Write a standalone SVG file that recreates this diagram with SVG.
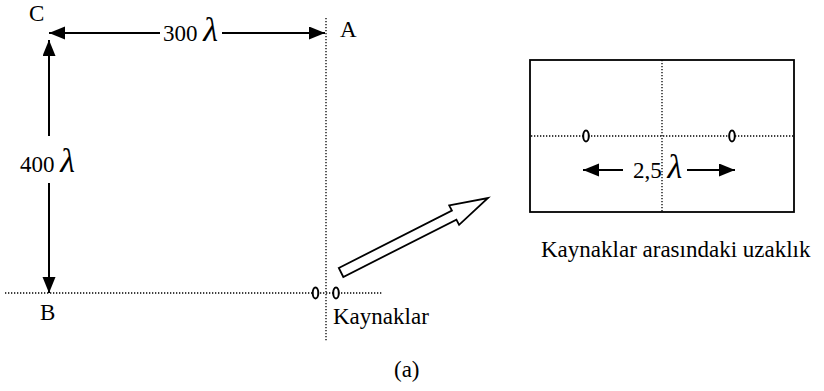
<svg xmlns="http://www.w3.org/2000/svg" width="824" height="391" viewBox="0 0 824 391">
<style>
text{font-family:"Liberation Serif","Times New Roman",serif;font-size:23px;fill:#000}
.lam{font-style:italic;font-size:34px}
.dot{stroke:#000;stroke-width:1.3;stroke-dasharray:1.3 1.7;fill:none}
.ar{stroke:#000;stroke-width:2;fill:none}
.src{fill:#fff;stroke:#000;stroke-width:2}
</style>
<defs>
<marker id="ah" markerUnits="userSpaceOnUse" markerWidth="17" markerHeight="14" refX="16" refY="6.5" orient="auto-start-reverse">
<path d="M0,0 L16,6.5 L0,13 z" fill="#000"/>
</marker>
</defs>
<rect width="824" height="391" fill="#fff"/>
<g id="guides">
<line class="dot" x1="326" y1="18" x2="326" y2="342"/>
<line class="dot" x1="5" y1="293" x2="382" y2="293"/>
</g>
<g id="node-C"><text x="29" y="21">C</text></g>
<g id="node-A"><text x="340" y="37">A</text></g>
<g id="node-B"><text x="40" y="320">B</text></g>
<g id="sources">
<ellipse class="src" cx="315.5" cy="293" rx="2.8" ry="5.5"/>
<ellipse class="src" cx="336" cy="293" rx="2.8" ry="5.5"/>
<text x="333" y="324">Kaynaklar</text>
</g>
<g id="zoom-box">
<rect x="530" y="60" width="264" height="152" fill="none" stroke="#000" stroke-width="1.8"/>
<line class="dot" x1="662" y1="60" x2="662" y2="212"/>
<line class="dot" x1="531" y1="136" x2="793" y2="136"/>
<ellipse class="src" cx="586" cy="136" rx="2.8" ry="5.5"/>
<ellipse class="src" cx="732" cy="136" rx="2.8" ry="5.5"/>
<text x="633" y="178">2,5 <tspan class="lam">λ</tspan></text>
</g>
<g id="caption"><text x="541" y="257">Kaynaklar arasındaki uzaklık</text></g>
<g id="label-a"><text x="394" y="377">(a)</text></g>
<g id="connectors">
<line class="ar" x1="49" y1="33" x2="160" y2="33" marker-start="url(#ah)"/>
<line class="ar" x1="222" y1="33" x2="325" y2="33" marker-end="url(#ah)"/>
<text x="163" y="41">300 <tspan class="lam">λ</tspan></text>
<line class="ar" x1="49" y1="40" x2="49" y2="136" marker-start="url(#ah)"/>
<line class="ar" x1="49" y1="183" x2="49" y2="293" marker-end="url(#ah)"/>
<text x="20" y="172">400 <tspan class="lam">λ</tspan></text>
<line class="ar" x1="583" y1="170" x2="623" y2="170" marker-start="url(#ah)"/>
<line class="ar" x1="687" y1="170" x2="735" y2="170" marker-end="url(#ah)"/>
<polygon points="338.8,268 451.9,210.6 449.2,205.3 488,198 459.1,224.9 456.4,219.6 343.3,277" fill="#fff" stroke="#000" stroke-width="1.8" stroke-linejoin="miter"/>
</g>
</svg>
